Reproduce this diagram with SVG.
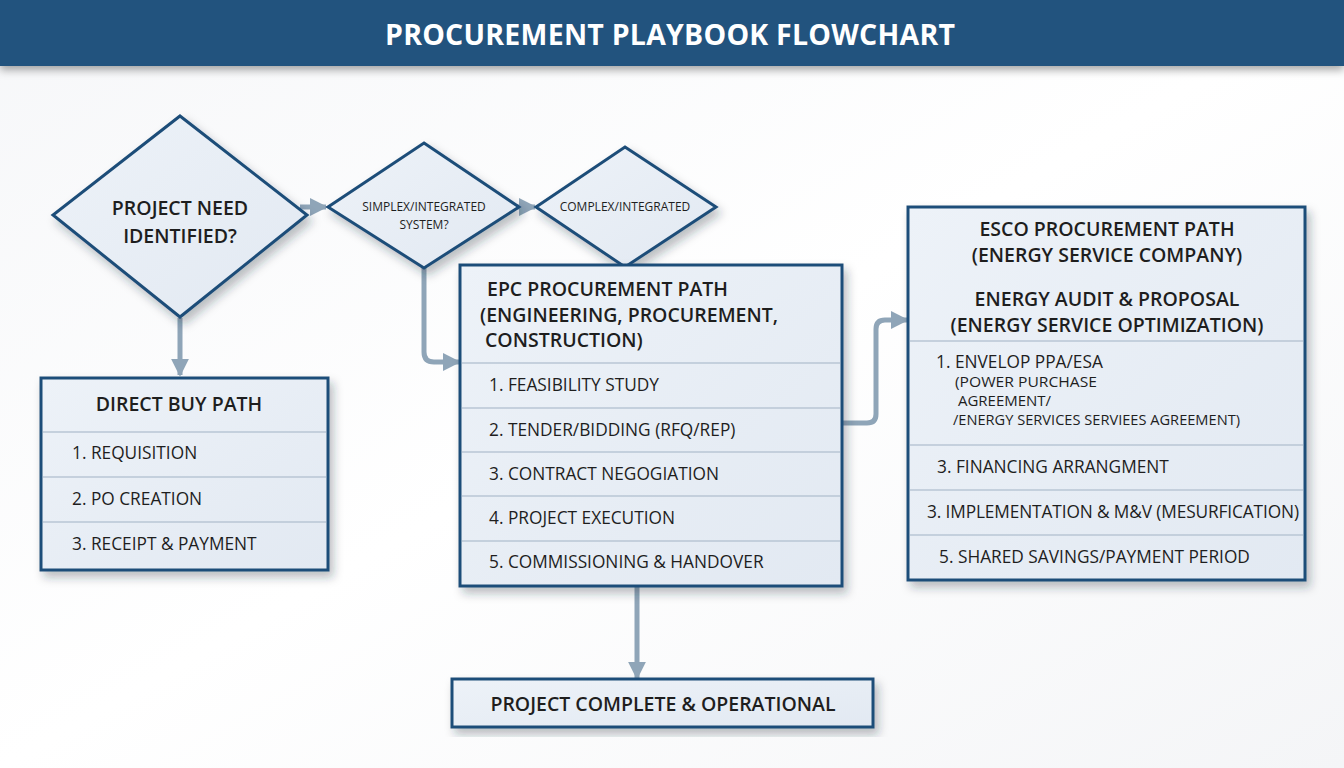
<svg xmlns="http://www.w3.org/2000/svg" width="1344" height="768" viewBox="0 0 1344 768">
<defs>
<linearGradient id="bg" x1="0" y1="0" x2="1" y2="1"><stop offset="0" stop-color="#f6f7f9"/><stop offset="0.5" stop-color="#ffffff"/><stop offset="1" stop-color="#f4f5f7"/></linearGradient>
<linearGradient id="nodefill" x1="0" y1="0" x2="1" y2="1"><stop offset="0" stop-color="#edf2f8"/><stop offset="1" stop-color="#e2e9f2"/></linearGradient>
<filter id="sh" x="-10%" y="-10%" width="125%" height="130%"><feDropShadow dx="4" dy="6" stdDeviation="5" flood-color="#1a2a3a" flood-opacity="0.3"/></filter>
<filter id="tsh" x="-5%" y="-20%" width="110%" height="160%"><feDropShadow dx="0" dy="4" stdDeviation="4" flood-color="#000" flood-opacity="0.35"/></filter>
<marker id="ah" viewBox="0 0 10 10" refX="9" refY="5" markerWidth="3.6" markerHeight="3.6" markerUnits="strokeWidth" orient="auto"><path d="M0,0 L10,5 L0,10 z" fill="#8fa5b8"/></marker>
<style>
.box{fill:url(#nodefill);stroke:#1f4e79;stroke-width:3;filter:url(#sh)}
.sep{stroke:#b9c6d4;stroke-width:1.5}
.hd{font-family:"Open Sans","Liberation Sans",sans-serif;font-weight:600;font-size:19.5px;fill:#1e1e1e}
.it{font-family:"Open Sans","Liberation Sans",sans-serif;font-size:17.3px;fill:#1e1e1e}
.sm{font-family:"Open Sans","Liberation Sans",sans-serif;font-size:12px;fill:#1e1e1e}
.xs{font-family:"Open Sans","Liberation Sans",sans-serif;font-size:15px;fill:#1e1e1e}
.conn{fill:none;stroke:#8fa5b8;stroke-width:5;stroke-linejoin:round;marker-end:url(#ah)}
</style>
</defs>
<rect width="1344" height="768" fill="url(#bg)"/>
<g id="title">
<rect x="0" y="0" width="1344" height="66" fill="#21527e" filter="url(#tsh)"/>
<text x="670" y="45" text-anchor="middle" font-family="Open Sans, Liberation Sans, sans-serif" font-weight="700" font-size="28.5" fill="#ffffff" textLength="570">PROCUREMENT PLAYBOOK FLOWCHART</text>
</g>
<g id="connectors">
<path class="conn" d="M300,207 L326,207"/>
<path class="conn" d="M517,207 L535,207"/>
<path class="conn" d="M180,318 L180,375"/>
<path class="conn" d="M424,268 L424,352 Q424,362 434,362 L459,362"/>
<path class="conn" d="M842,423 L867,423 Q876,423 876,414 L876,329 Q876,320 885,320 L907,320"/>
<path class="conn" d="M637,587 L637,678"/>
</g>
<g id="n-need">
<polygon class="box" points="180,116 307,215 180,317 53,215"/>
<text class="hd" x="180" y="215" text-anchor="middle" font-size="20.5">PROJECT NEED</text>
<text class="hd" x="180" y="243" text-anchor="middle" font-size="20.5">IDENTIFIED?</text>
</g>
<g id="n-simplex">
<polygon class="box" points="424,143 519,207 424,268 328,207"/>
<text class="sm" x="424" y="211" text-anchor="middle">SIMPLEX/INTEGRATED</text>
<text class="sm" x="424" y="229" text-anchor="middle">SYSTEM?</text>
</g>
<g id="n-complex">
<polygon class="box" points="625,147 716,207 625,267 536,207"/>
<text class="sm" x="625" y="211" text-anchor="middle">COMPLEX/INTEGRATED</text>
</g>
<g id="n-direct">
<rect class="box" x="41" y="378" width="287" height="192"/>
<text class="hd" x="179" y="411" text-anchor="middle">DIRECT BUY PATH</text>
<line class="sep" x1="43" y1="432" x2="326" y2="432"/>
<line class="sep" x1="43" y1="477" x2="326" y2="477"/>
<line class="sep" x1="43" y1="522" x2="326" y2="522"/>
<text class="it" x="72" y="459">1. REQUISITION</text>
<text class="it" x="72" y="505">2. PO CREATION</text>
<text class="it" x="72" y="550">3. RECEIPT &amp; PAYMENT</text>
</g>
<g id="n-epc">
<rect class="box" x="460" y="265" width="382" height="321"/>
<text class="hd" x="487" y="296">EPC PROCUREMENT PATH</text>
<text class="hd" x="480" y="322">(ENGINEERING, PROCUREMENT,</text>
<text class="hd" x="485" y="347">CONSTRUCTION)</text>
<line class="sep" x1="462" y1="363" x2="840" y2="363"/>
<line class="sep" x1="462" y1="408" x2="840" y2="408"/>
<line class="sep" x1="462" y1="452" x2="840" y2="452"/>
<line class="sep" x1="462" y1="496" x2="840" y2="496"/>
<line class="sep" x1="462" y1="541" x2="840" y2="541"/>
<text class="it" x="489" y="391">1. FEASIBILITY STUDY</text>
<text class="it" x="489" y="436">2. TENDER/BIDDING (RFQ/REP)</text>
<text class="it" x="489" y="480">3. CONTRACT NEGOGIATION</text>
<text class="it" x="489" y="524">4. PROJECT EXECUTION</text>
<text class="it" x="489" y="568">5. COMMISSIONING &amp; HANDOVER</text>
</g>
<g id="n-esco">
<rect class="box" x="908" y="207" width="397" height="373"/>
<text class="hd" x="1107" y="236" text-anchor="middle">ESCO PROCUREMENT PATH</text>
<text class="hd" x="1107" y="262" text-anchor="middle">(ENERGY SERVICE COMPANY)</text>
<text class="hd" x="1107" y="306" text-anchor="middle">ENERGY AUDIT &amp; PROPOSAL</text>
<text class="hd" x="1107" y="332" text-anchor="middle">(ENERGY SERVICE OPTIMIZATION)</text>
<line class="sep" x1="910" y1="341" x2="1303" y2="341"/>
<text class="it" x="936" y="368" font-size="16">1. ENVELOP PPA/ESA</text>
<text class="xs" x="955" y="387" textLength="142" lengthAdjust="spacingAndGlyphs">(POWER PURCHASE</text>
<text class="xs" x="958" y="406" textLength="93" lengthAdjust="spacingAndGlyphs">AGREEMENT/</text>
<text class="xs" x="953" y="425" textLength="287" lengthAdjust="spacingAndGlyphs">/ENERGY SERVICES SERVIEES AGREEMENT)</text>
<line class="sep" x1="910" y1="445" x2="1303" y2="445"/>
<line class="sep" x1="910" y1="490" x2="1303" y2="490"/>
<line class="sep" x1="910" y1="535" x2="1303" y2="535"/>
<text class="it" x="937" y="473">3. FINANCING ARRANGMENT</text>
<text class="it" x="927" y="518" textLength="372">3. IMPLEMENTATION &amp; M&amp;V (MESURFICATION)</text>
<text class="it" x="939" y="563">5. SHARED SAVINGS/PAYMENT PERIOD</text>
</g>
<g id="n-complete">
<rect class="box" x="452" y="679" width="421" height="48"/>
<text class="hd" x="663" y="711" text-anchor="middle">PROJECT COMPLETE &amp; OPERATIONAL</text>
</g>
</svg>
